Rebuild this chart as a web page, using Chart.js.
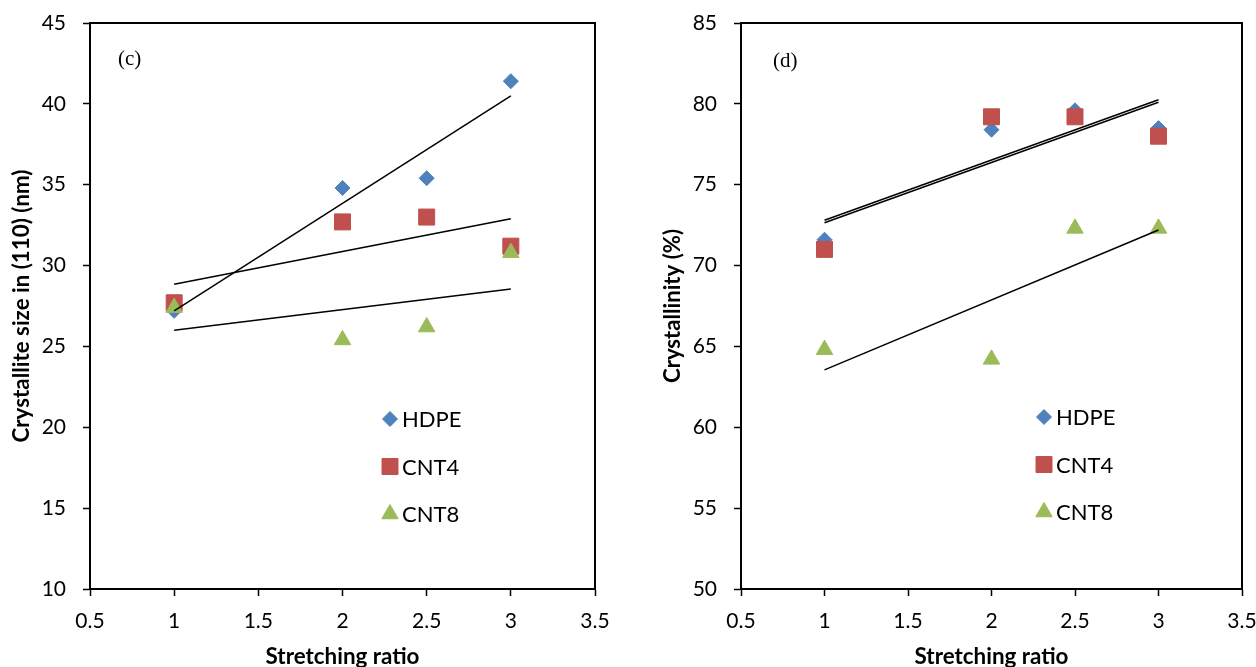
<!DOCTYPE html>
<html><head><meta charset="utf-8">
<script src="https://cdn.jsdelivr.net/npm/chart.js@4.4.0/dist/chart.umd.min.js"></script>
<style>
html,body{margin:0;padding:0;background:#fff;overflow:hidden}
#wrap{position:relative;width:1256px;height:667px;background:#fff;overflow:hidden}
.box{position:absolute;top:0;height:667px}
</style></head><body>
<div id="wrap">
<div class="box" style="left:0;width:628px"><canvas id="c1"></canvas></div>
<div class="box" style="left:628px;width:650px"><canvas id="c2"></canvas></div>
</div>
<script>
// ---- data ----
const stretchRatio = [1, 2, 2.5, 3];
const trendX = [1, 3];
const seriesNames = ['HDPE', 'CNT4', 'CNT8'];
// panel (c): crystallite size in (110), nm
const sizeHDPE = [27.2, 34.8, 35.4, 41.4];
const sizeCNT4 = [27.7, 32.7, 33.0, 31.2];
const sizeCNT8 = [27.4, 25.4, 26.2, 30.8];
const sizeTrendHDPE = [27.2, 40.5];
const sizeTrendCNT4 = [28.85, 32.9];
const sizeTrendCNT8 = [26.0, 28.55];
// panel (d): crystallinity, %
const crystHDPE = [71.6, 78.4, 79.6, 78.5];
const crystCNT4 = [71.0, 79.2, 79.2, 78.0];
const crystCNT8 = [64.8, 64.2, 72.3, 72.3];
const crystTrendHDPE = [72.8, 80.25];
const crystTrendCNT4 = [72.65, 80.1];
const crystTrendCNT8 = [63.55, 72.2];
// ticks
const xTicks = [0.5, 1, 1.5, 2, 2.5, 3, 3.5];
const sizeTicks = [10, 15, 20, 25, 30, 35, 40, 45];
const crystTicks = [50, 55, 60, 65, 70, 75, 80, 85];

// ---- styles ----
const colors = ['#4F81BD', '#C0504D', '#9BBB59'];
const styles = ['rectRot', 'rect', 'triangle'];
const radii = [7.5, 11.3, 9.5];
const FAMILY = 'Lato';

Chart.defaults.font.family = FAMILY;
Chart.defaults.color = '#000';

// font size so that a bold title spans a given pixel length
const mctx = document.createElement('canvas').getContext('2d');
function fitSize(text, target) {
  mctx.font = 'bold 24px ' + FAMILY;
  return 24 * target / mctx.measureText(text).width;
}

const framePlugin = {
  id: 'frame',
  afterDatasetsDraw(chart) {
    const a = chart.chartArea, ctx = chart.ctx;
    ctx.save();
    ctx.strokeStyle = '#000';
    ctx.lineWidth = 2;
    ctx.beginPath();
    ctx.moveTo(a.left, a.top); ctx.lineTo(a.right, a.top); ctx.lineTo(a.right, a.bottom);
    ctx.stroke();
    ctx.restore();
  }
};
const legendPlugin = {
  id: 'inLegend',
  afterDraw(chart, args, opts) {
    const a = chart.chartArea, ctx = chart.ctx;
    ctx.save();
    seriesNames.forEach((name, i) => {
      const x = a.left + opts.dx, y = a.top + opts.dy + i * opts.gap;
      ctx.fillStyle = colors[i]; ctx.strokeStyle = colors[i]; ctx.lineWidth = 1;
      Chart.helpers.drawPoint(ctx, {pointStyle: styles[i], radius: radii[i], borderWidth: 1}, x, y);
      ctx.fillStyle = '#000';
      ctx.font = '22px ' + FAMILY;
      ctx.textBaseline = 'middle';
      ctx.textAlign = 'left';
      ctx.fillText(name, x + 12, y + 1);
    });
    ctx.restore();
  }
};
const tagPlugin = {
  id: 'panelTag',
  afterDraw(chart, args, opts) {
    const a = chart.chartArea, ctx = chart.ctx;
    ctx.save();
    ctx.fillStyle = '#000';
    ctx.font = '21px "Liberation Serif"';
    ctx.textBaseline = 'middle';
    ctx.fillText(opts.text, a.left + opts.dx, a.top + opts.dy);
    ctx.restore();
  }
};

function makeChart(id, vals, trends, yTicks, yTitle, yTitleLen, yAxisW, padRight, titleCenter, legendPos, tag) {
  const datasets = [];
  trends.forEach(t => datasets.push({
    type: 'scatter', showLine: true,
    data: trendX.map((x, i) => ({x, y: t[i]})),
    borderColor: '#000', borderWidth: 1.5, pointRadius: 0, pointHoverRadius: 0, order: 0
  }));
  vals.forEach((v, k) => datasets.push({
    type: 'scatter', label: seriesNames[k],
    data: stretchRatio.map((x, i) => ({x, y: v[i]})),
    pointStyle: styles[k], pointRadius: radii[k], pointHoverRadius: radii[k],
    backgroundColor: colors[k], borderColor: colors[k], borderWidth: 1,
    order: 3 - k
  }));
  const xs = fitSize('Stretching ratio', 154);
  const ys = fitSize(yTitle, yTitleLen);
  const yPad = titleCenter - ys / 2;
  return new Chart(document.getElementById(id), {
    type: 'scatter',
    data: {datasets},
    plugins: [framePlugin, legendPlugin, tagPlugin],
    options: {
      responsive: true, maintainAspectRatio: false, animation: false,
      layout: {padding: {top: 23, right: padRight, bottom: 0, left: 0}},
      plugins: {
        legend: {display: false}, tooltip: {enabled: false},
        inLegend: legendPos,
        panelTag: tag
      },
      scales: {
        x: {
          type: 'linear', min: xTicks[0], max: xTicks[xTicks.length - 1],
          afterBuildTicks: s => { s.ticks = xTicks.map(v => ({value: v})); },
          afterFit: s => { s.height = 78; },
          ticks: {font: {size: 21}, padding: 13, callback: v => String(v), maxRotation: 0},
          grid: {drawOnChartArea: false, drawTicks: true, tickLength: 7, tickColor: '#000', tickWidth: 1.5},
          border: {display: true, color: '#000', width: 2},
          title: {display: true, text: 'Stretching ratio', font: {size: xs, weight: 'bold', lineHeight: 1}, padding: {top: 0, bottom: -1}}
        },
        y: {
          type: 'linear', min: yTicks[0], max: yTicks[yTicks.length - 1],
          afterBuildTicks: s => { s.ticks = yTicks.map(v => ({value: v})); },
          afterFit: s => { s.width = yAxisW; s.paddingTop = 0; s.paddingBottom = 0; },
          ticks: {font: {size: 21}, padding: 17, callback: v => String(v)},
          grid: {drawOnChartArea: false, drawTicks: true, tickLength: 7, tickColor: '#000', tickWidth: 1.5},
          border: {display: true, color: '#000', width: 2},
          title: {display: true, text: yTitle, font: {size: ys, weight: 'bold', lineHeight: 1}, padding: {top: yPad, bottom: yPad}}
        }
      }
    }
  });
}

makeChart('c1', [sizeHDPE, sizeCNT4, sizeCNT8],
  [sizeTrendHDPE, sizeTrendCNT4, sizeTrendCNT8],
  sizeTicks, 'Crystallite size in (110) (nm)', 273, 90, 33, 22,
  {dx: 300, dy: 396, gap: 47.5}, {text: '(c)', dx: 28, dy: 36});
makeChart('c2', [crystHDPE, crystCNT4, crystCNT8],
  [crystTrendHDPE, crystTrendCNT4, crystTrendCNT8],
  crystTicks, 'Crystallinity (%)', 154, 113, 36, 45,
  {dx: 303, dy: 394, gap: 47.5}, {text: '(d)', dx: 32, dy: 38});
</script>
</body></html>
